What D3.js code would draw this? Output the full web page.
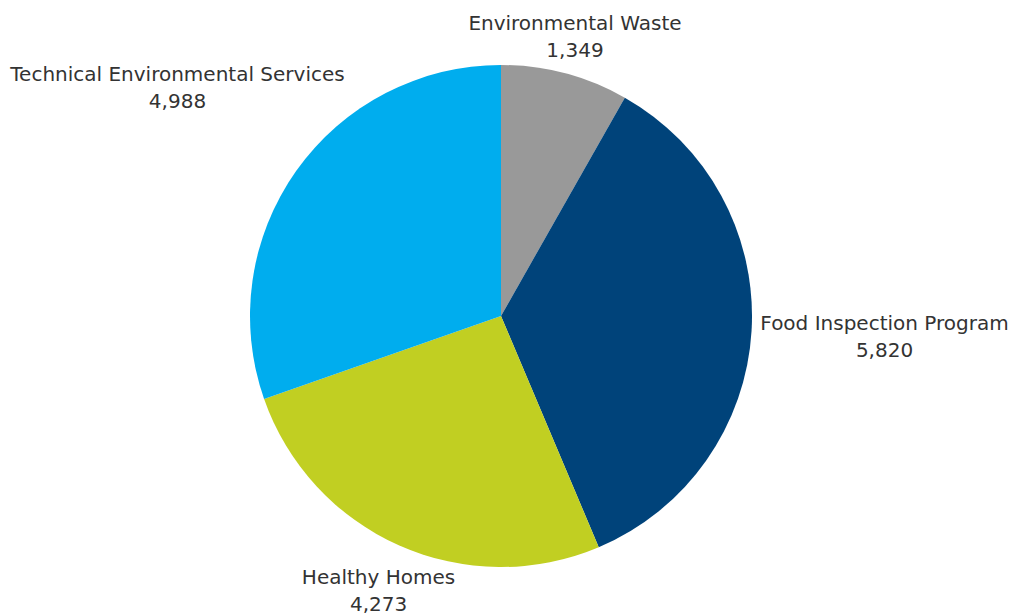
<!DOCTYPE html>
<html>
<head>
<meta charset="utf-8">
<script src="https://cdn.jsdelivr.net/npm/d3@7"></script>
<style>
  html, body { margin: 0; padding: 0; background: #ffffff; }
  svg { display: block; }
  text { font-family: "DejaVu Sans", sans-serif; fill: #333333; }
</style>
</head>
<body>
<svg id="chart" width="1013" height="613"></svg>
<script>
const categories = ["Environmental Waste", "Food Inspection Program", "Healthy Homes", "Technical Environmental Services"];
const values = [1349, 5820, 4273, 4988];
const colors = ["#999999", "#00437A", "#C1CF22", "#00ADEE"];

const width = 1013, height = 613;
const cx = 501, cy = 316, radius = 251;
const labelRadius = 290;
// label nudges relative to anchor on labelRadius (first-line baseline)
const labelNudge = [[0, -6], [94, -3], [-5, 3], [-87, -67]];

const svg = d3.select("#chart");
const g = svg.append("g").attr("transform", `translate(${cx},${cy})`);

const data = categories.map((c, i) => ({ name: c, value: values[i], color: colors[i] }));
const pie = d3.pie().value(d => d.value).sort(null);
const arc = d3.arc().innerRadius(0).outerRadius(radius);
const arcs = pie(data);

g.selectAll("path.slice")
  .data(arcs)
  .join("path")
  .attr("class", "slice")
  .attr("d", arc)
  .attr("fill", d => d.data.color);

const fmt = d3.format(",");
const labels = g.selectAll("g.label")
  .data(arcs)
  .join("g")
  .attr("class", "label")
  .attr("transform", (d, i) => {
    const a = (d.startAngle + d.endAngle) / 2;
    const x = labelRadius * Math.sin(a) + labelNudge[i][0];
    const y = -labelRadius * Math.cos(a) + labelNudge[i][1];
    return `translate(${x},${y})`;
  });

labels.append("text")
  .attr("text-anchor", "middle")
  .attr("font-size", 20)
  .text(d => d.data.name);
labels.append("text")
  .attr("text-anchor", "middle")
  .attr("font-size", 20)
  .attr("y", 27)
  .text(d => fmt(d.data.value));
</script>
</body>
</html>
